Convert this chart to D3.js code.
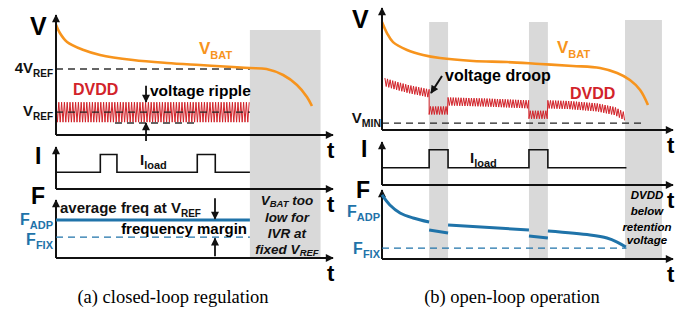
<!DOCTYPE html>
<html>
<head>
<meta charset="utf-8">
<script src="https://cdn.jsdelivr.net/npm/d3@7"></script>
<style>
    body { margin: 0; background: #fff; }
    svg { display: block; font-family: "Liberation Sans", Arial, sans-serif; font-weight: bold; }
    .caption { font-family: "Liberation Serif", "Times New Roman", serif; font-weight: normal; }
</style>
</head>
<body>
<svg id="chart" width="683" height="323"></svg>
<script>
// Schematic units: time 0-100 along each panel, level 0-100 inside each row.
const colors = { bat: "#f7941d", dvdd: "#d2232a", freq: "#1f73a9", shade: "#d9d9d9", ink: "#111" };

// (a) closed-loop regulation
const vbatA = [[0, 92], [1.4, 85], [4, 77.5], [9.7, 71], [15.9, 66.7], [27.8, 62.5], [40, 60], [52, 58.3],
    [63.9, 56.7], [70, 55.8], [76, 55], [82, 50], [87, 41.7], [90.6, 31.7], [92.4, 24.2]];
const fourVrefA = 55;
const vrefA = 19;
const rippleLowA = 10;
const rippleA = [[[0, 19], [70, 19]]];
const loadPulsesA = [[16, 22], [51, 57.5]];
const loadEndA = 70;
const fAdpA = 65.5;
const fFixA = 36;
const shadeA = [[70, 95.5]];

// (b) open-loop operation
const vbatB = [[0, 88.5], [1.7, 79.5], [3.8, 72], [8.6, 65.6], [14.1, 61.5], [19.9, 59], [31.3, 56.6], [43, 55.7],
    [54.3, 54.1], [65.6, 52.5], [74.9, 50.8], [80.8, 46.7], [85.2, 41], [88.7, 32.8], [91.4, 20.5]];
const dvddB = [
    [[1, 39.3], [4, 36.9], [9, 33.6], [16.2, 30]],
    [[16.2, 16], [22.7, 16]],
    [[22.7, 23.4], [36, 22.5], [50.5, 21]],
    [[50.5, 12.5], [57, 12.5]],
    [[57, 21], [64, 20.5], [74, 18.5], [80, 15.5], [83.5, 11]]
];
const vMinB = 5.7;
const loadPulsesB = [[16.2, 22.7], [50.5, 57]];
const loadEndB = 84;
const fAdpB = [
    [[0, 92.8], [2.7, 78.3], [6.2, 66.7], [10.7, 59.4], [16.2, 53.6]],
    [[16.2, 42], [22.7, 37.7]],
    [[22.7, 49.3], [50.5, 42]],
    [[50.5, 33.3], [57, 30.4]],
    [[57, 40.6], [71.5, 34.8], [77.3, 30.4], [80.8, 24.6], [83.8, 17.4]]
];
const fFixB = 15.9;
const shadeB = [[16.2, 22.7], [50.5, 57], [83.5, 96.2]];

const loadLow = 40;
const loadHigh = 82;

const svg = d3.select("#chart");
const defs = svg.append("defs");
defs.append("marker")
    .attr("id", "arrow")
    .attr("viewBox", "0 0 10 10")
    .attr("refX", 9).attr("refY", 5)
    .attr("markerWidth", 9).attr("markerHeight", 8)
    .attr("markerUnits", "userSpaceOnUse")
    .attr("orient", "auto")
    .append("path").attr("d", "M0,0 L10,5 L0,10 z").attr("fill", colors.ink);

const smooth = (x, y) => d3.line().x(d => x(d[0])).y(d => y(d[1])).curve(d3.curveCatmullRom);
const straight = (x, y) => d3.line().x(d => x(d[0])).y(d => y(d[1]));

// ripple drawn on top of an envelope: alternate above/below the centre level
function zigzag(x, y, segments, halfPx, amp) {
    const pts = [];
    const dt = x.invert(x(0) + halfPx);
    let k = 0;
    segments.forEach(seg => {
        const centre = d3.scaleLinear().domain(seg.map(d => d[0])).range(seg.map(d => d[1]));
        const t1 = seg[seg.length - 1][0];
        for (let t = seg[0][0]; t <= t1 + 1e-6; t += dt, k++) {
            pts.push([x(t), y(centre(t) + (k % 2 ? -amp : amp))]);
        }
    });
    return d3.line()(pts);
}

function subLabel(g, x, y, main, sub, opts) {
    const o = Object.assign({ size: 15, subSize: 10, anchor: "end", color: colors.ink, italic: false, shift: 0.28 }, opts);
    const t = g.append("text")
        .attr("x", x).attr("y", y)
        .attr("text-anchor", o.anchor)
        .attr("fill", o.color)
        .style("font-size", o.size + "px")
        .style("font-style", o.italic ? "italic" : "normal");
    t.append("tspan").text(main);
    if (sub) t.append("tspan").attr("dy", o.size * o.shift).style("font-size", o.subSize + "px").text(sub);
    if (o.after) t.append("tspan").attr("dy", -o.size * o.shift).text(o.after);
    return t;
}

function axes(g, x, rows, xEnd, labels) {
    rows.forEach((r, i) => {
        g.append("line")
            .attr("x1", x(0)).attr("x2", xEnd)
            .attr("y1", r.range()[0]).attr("y2", r.range()[0])
            .attr("stroke", colors.ink).attr("stroke-width", 2)
            .attr("marker-end", "url(#arrow)");
        g.append("line")
            .attr("x1", x(0)).attr("x2", x(0))
            .attr("y1", r.range()[0]).attr("y2", r.range()[1])
            .attr("stroke", colors.ink).attr("stroke-width", 2)
            .attr("marker-end", "url(#arrow)");
        g.append("text")
            .attr("x", xEnd - 6).attr("y", r.range()[0] + 23)
            .style("font-size", "22px")
            .text("t");
        g.append("text")
            .attr("x", labels[i][0]).attr("y", labels[i][1])
            .style("font-size", i === 0 ? "25px" : "23px")
            .text(labels[i][2]);
    });
}

function dashed(g, x, y, t0, t1, v, color) {
    g.append("line")
        .attr("x1", x(t0)).attr("x2", x(t1))
        .attr("y1", y(v)).attr("y2", y(v))
        .attr("stroke", color).attr("stroke-width", 1.3)
        .attr("stroke-dasharray", "7,5");
}

function loadTrace(g, x, y, pulses, tEnd) {
    const pts = [[0, loadLow]];
    pulses.forEach(([a, b]) => pts.push([a, loadLow], [a, loadHigh], [b, loadHigh], [b, loadLow]));
    pts.push([tEnd, loadLow]);
    g.append("path").attr("d", straight(x, y)(pts))
        .attr("fill", "none").attr("stroke", colors.ink).attr("stroke-width", 1.6);
}

function vArrow(g, x, y, t, from, to) {
    g.append("line")
        .attr("x1", x(t)).attr("x2", x(t))
        .attr("y1", y(from)).attr("y2", y(to))
        .attr("stroke", colors.ink).attr("stroke-width", 1.8)
        .attr("marker-end", "url(#arrow)");
}

// ---------- panel (a) ----------
{
    const g = svg.append("g");
    const x = d3.scaleLinear().domain([0, 100]).range([56, 333]);
    const yV = d3.scaleLinear().domain([0, 100]).range([135, 15]);
    const yI = d3.scaleLinear().domain([0, 100]).range([189, 147]);
    const yF = d3.scaleLinear().domain([0, 100]).range([258, 200]);

    shadeA.forEach(([a, b]) => g.append("rect")
        .attr("x", x(a)).attr("width", x(b) - x(a))
        .attr("y", 30).attr("height", yF(0) - 30)
        .attr("fill", colors.shade));

    dashed(g, x, yV, 0, 70, fourVrefA, "#333");
    g.append("path").attr("d", zigzag(x, yV, rippleA, 1.4, 8.3))
        .attr("fill", "none").attr("stroke", colors.dvdd).attr("stroke-width", 1);
    dashed(g, x, yV, 0, 70, vrefA, "#222");
    dashed(g, x, yV, 21.3, 50.2, rippleLowA, "#333");

    g.append("path").attr("d", smooth(x, yV)(vbatA))
        .attr("fill", "none").attr("stroke", colors.bat).attr("stroke-width", 2.6);

    axes(g, x, [yV, yI, yF], 333, [[30, 35, "V"], [35, 164, "I"], [31, 204, "F"]]);

    subLabel(g, 53, 73, "4V", "REF", { size: 15 });
    subLabel(g, 53, 116, "V", "REF", { size: 15 });
    subLabel(g, 199, 54, "V", "BAT", { size: 17, subSize: 11, anchor: "start", color: colors.bat });
    g.append("text").attr("x", 73).attr("y", 95).attr("fill", colors.dvdd)
        .style("font-size", "16px").text("DVDD");
    g.append("text").attr("x", 150).attr("y", 96).style("font-size", "15.5px").text("voltage ripple");
    vArrow(g, x, yV, 32.5, 41, 27.5);
    vArrow(g, x, yV, 32.5, -5, 10);

    loadTrace(g, x, yI, loadPulsesA, loadEndA);
    subLabel(g, 140, 165, "I", "load", { size: 15, subSize: 11, anchor: "start" });

    g.append("line")
        .attr("x1", x(0)).attr("x2", x(70))
        .attr("y1", yF(fAdpA)).attr("y2", yF(fAdpA))
        .attr("stroke", colors.freq).attr("stroke-width", 3);
    dashed(g, x, yF, 0, 70, fFixA, colors.freq);
    subLabel(g, 53, 225, "F", "ADP", { size: 16, subSize: 11, color: colors.freq });
    subLabel(g, 53, 245, "F", "FIX", { size: 16, subSize: 11, color: colors.freq });
    subLabel(g, 60, 213, "average freq at V", "REF", { size: 15, subSize: 10, anchor: "start" });
    g.append("text").attr("x", 247).attr("y", 234).attr("text-anchor", "end")
        .style("font-size", "15px").text("frequency margin");
    vArrow(g, x, yF, 57.4, 103, 67.5);
    vArrow(g, x, yF, 57.4, 3, 34);

    const note = [["V", "BAT", " too"], ["low for"], ["IVR at"], ["fixed V", "REF"]];
    const noteY = [205, 221.5, 237.5, 254];
    note.forEach((n, i) => subLabel(g, 287, noteY[i], n[0], n[1], {
        size: 13.5, subSize: 9.5, anchor: "middle", italic: true, after: n[2], shift: 0.18
    }));

    g.append("text").attr("class", "caption")
        .attr("x", 173).attr("y", 303).attr("text-anchor", "middle")
        .style("font-size", "18.5px").text("(a) closed-loop regulation");
}

// ---------- panel (b) ----------
{
    const g = svg.append("g");
    const x = d3.scaleLinear().domain([0, 100]).range([382, 673]);
    const yV = d3.scaleLinear().domain([0, 100]).range([130, 8]);
    const yI = d3.scaleLinear().domain([0, 100]).range([185, 142]);
    const yF = d3.scaleLinear().domain([0, 100]).range([259, 190]);

    shadeB.forEach(([a, b], i) => g.append("rect")
        .attr("x", x(a)).attr("width", x(b) - x(a))
        .attr("y", i === 2 ? 20 : 22).attr("height", yF(0) - (i === 2 ? 20 : 22))
        .attr("fill", colors.shade));

    dashed(g, x, yV, 0, 89, vMinB, "#222");
    g.append("path").attr("d", zigzag(x, yV, dvddB, 1.3, 3.3))
        .attr("fill", "none").attr("stroke", colors.dvdd).attr("stroke-width", 1);
    g.append("path").attr("d", smooth(x, yV)(vbatB))
        .attr("fill", "none").attr("stroke", colors.bat).attr("stroke-width", 2.6);

    axes(g, x, [yV, yI, yF], 673, [[352, 28, "V"], [361, 157, "I"], [356, 198, "F"]]);

    subLabel(g, 381, 123, "V", "MIN", { size: 15, subSize: 10.5 });
    subLabel(g, 557, 53, "V", "BAT", { size: 17, subSize: 11, anchor: "start", color: colors.bat });
    g.append("text").attr("x", 570).attr("y", 99).attr("fill", colors.dvdd)
        .style("font-size", "16px").text("DVDD");
    g.append("text").attr("x", 445).attr("y", 81).style("font-size", "16px").text("voltage droop");
    g.append("line")
        .attr("x1", 442).attr("y1", 76).attr("x2", 431).attr("y2", 93)
        .attr("stroke", colors.ink).attr("stroke-width", 2)
        .attr("marker-end", "url(#arrow)");

    loadTrace(g, x, yI, loadPulsesB, loadEndB);
    subLabel(g, 470, 163, "I", "load", { size: 15, subSize: 11, anchor: "start" });

    fAdpB.forEach(seg => g.append("path")
        .attr("d", (seg.length > 2 ? smooth(x, yF) : straight(x, yF))(seg))
        .attr("fill", "none").attr("stroke", colors.freq).attr("stroke-width", 3));
    dashed(g, x, yF, 0, 84, fFixB, colors.freq);
    subLabel(g, 380, 217, "F", "ADP", { size: 16, subSize: 11, color: colors.freq });
    subLabel(g, 380, 254, "F", "FIX", { size: 16, subSize: 11, color: colors.freq });

    const note = ["DVDD", "below", "retention", "voltage"];
    const noteY = [199, 215, 231, 244];
    note.forEach((n, i) => g.append("text")
        .attr("x", 647).attr("y", noteY[i]).attr("text-anchor", "middle")
        .style("font-size", "11.5px").style("font-style", "italic").text(n));

    g.append("text").attr("class", "caption")
        .attr("x", 512).attr("y", 303).attr("text-anchor", "middle")
        .style("font-size", "18.5px").text("(b) open-loop operation");
}
</script>
</body>
</html>
